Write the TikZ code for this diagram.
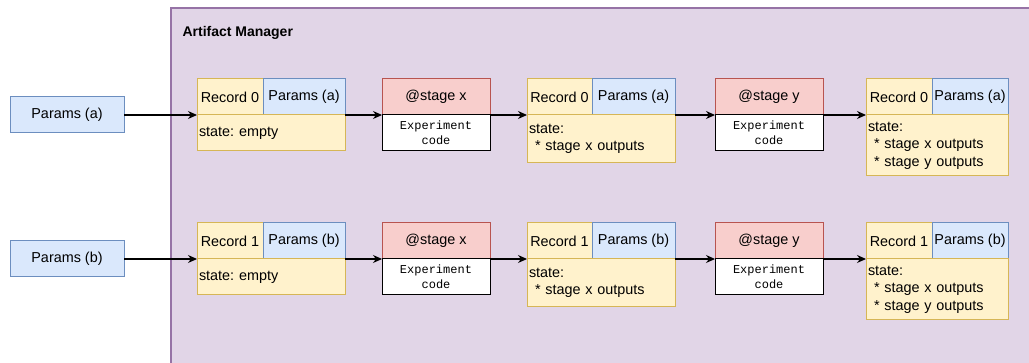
\documentclass[tikz,border=0pt]{standalone}
\usepackage{fontspec}
\setmainfont{Liberation Sans}
\newfontfamily\codefont{Liberation Mono}
\usepackage{tikz}
\usetikzlibrary{arrows.meta,positioning}
\frenchspacing

\definecolor{yelfill}{HTML}{FFF2CC}
\definecolor{yeldraw}{HTML}{D6B656}
\definecolor{bluefill}{HTML}{DAE8FC}
\definecolor{bluedraw}{HTML}{6C8EBF}
\definecolor{redfill}{HTML}{F8CECC}
\definecolor{reddraw}{HTML}{B85450}
\definecolor{mgrfill}{HTML}{E1D5E7}
\definecolor{mgrdraw}{HTML}{9673A6}

\begin{document}
\begin{tikzpicture}[
  x=1pt,y=-1pt,
  font=\fontsize{14.4}{17.5}\selectfont,node distance=0pt,
  box/.style={rectangle,draw,line width=1pt,inner sep=2pt,outer sep=0pt,minimum height=36pt},
  rec/.style={box,fill=yelfill,draw=yeldraw,minimum width=66pt},
  par/.style={box,fill=bluefill,draw=bluedraw,minimum width=82pt},
  state/.style={box,fill=yelfill,draw=yeldraw,align=left,text width=144pt,minimum height=#1},
  stg/.style={box,fill=redfill,draw=reddraw,minimum width=108pt},
  code/.style={box,fill=white,draw=black,minimum width=108pt,align=center,
    font=\codefont\fontsize{12}{15}\selectfont},
  ar/.style={-{Stealth[length=9pt,width=8pt]},line width=1.2pt}
]
\useasboundingbox (0,0) rectangle (1029,363);
\clip (0,0) rectangle (1029,363);

% the manager frame runs off the page on the right and bottom
\node[rectangle,draw=mgrdraw,fill=mgrfill,line width=2pt,anchor=north west,
  minimum width=900pt,minimum height=400pt] (mgr) at (170,7) {};
\node[anchor=west,font=\bfseries\fontsize{14}{16}\selectfont] (title) at (179,33) {Artifact Manager};

\foreach \r/\p/\dy in {0/a/0,1/b/144} {
  \node[par,minimum width=114pt] (in\r) at (67,115+\dy) {Params (\p)};
  % fresh record
  \node[rec,anchor=south west] (ra\r) at (197,115+\dy) {Record \r};
  \node[par,right=of ra\r] (pa\r) {Params (\p)};
  \node[state=36pt,anchor=north west] (sa\r) at (ra\r.south west) {state: empty};
  % stage x
  \node[stg,anchor=south west] (x\r) at (382,115+\dy) {@stage x};
  \node[code,anchor=north west] (xc\r) at (x\r.south west) {Experiment\\code};
  % record after stage x
  \node[rec,anchor=south west,minimum width=65pt] (rb\r) at (527,115+\dy) {Record \r};
  \node[par,right=of rb\r,minimum width=83pt] (pb\r) {Params (\p)};
  \node[state=48pt,anchor=north west] (sb\r) at (rb\r.south west)
    {state:\\\hspace*{6pt}* stage x outputs};
  % stage y
  \node[stg,anchor=south west] (y\r) at (715,115+\dy) {@stage y};
  \node[code,anchor=north west] (yc\r) at (y\r.south west) {Experiment\\code};
  % record after stage y
  \node[rec,anchor=south west] (rc\r) at (866,115+\dy) {Record \r};
  \node[par,right=of rc\r,minimum width=76pt] (pc\r) {Params (\p)};
  \node[state=61pt,anchor=north west,text width=138pt] (sc\r) at (rc\r.south west)
    {state:\\\hspace*{6pt}* stage x outputs\\\hspace*{6pt}* stage y outputs};
  \draw[ar] (in\r.east) -- (ra\r.south west);
  \draw[ar] (pa\r.south east) -- (x\r.south west);
  \draw[ar] (x\r.south east) -- (rb\r.south west);
  \draw[ar] (pb\r.south east) -- (y\r.south west);
  \draw[ar] (y\r.south east) -- (rc\r.south west);
}
\end{tikzpicture}
\end{document}
